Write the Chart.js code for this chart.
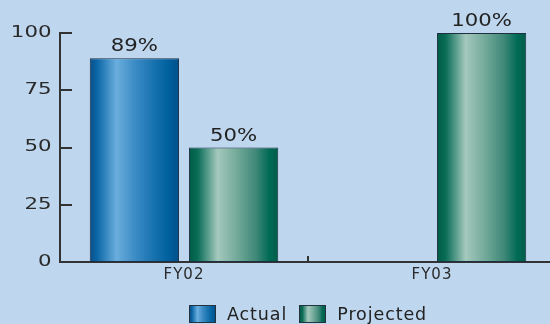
<!DOCTYPE html>
<html>
<head>
<meta charset="utf-8">
<script src="https://cdn.jsdelivr.net/npm/chart.js@4/dist/chart.umd.min.js"></script>
<style>
  html, body { margin: 0; padding: 0; background: #bed7ee; overflow: hidden; }
  #wrap { position: relative; width: 550px; height: 324px; overflow: hidden; }
  #c { position: absolute; left: 0; top: 0; }
  #legend { position: absolute; left: 189px; top: 304px; display: flex; align-items: center;
            font-family: "DejaVu Sans", sans-serif; font-size: 17.5px; letter-spacing: 0.9px; color: #222; }
  .item { display: flex; align-items: center; margin-right: 12px; }
  .box { width: 25px; height: 16px; border: 1px solid #24323f; margin-right: 11px; }
  .blue { background: linear-gradient(to right, #0b4f8a, #0a66a6 8%, #6aaedd 30%, #3d8cc6 50%, #1a74b0 70%, #00609e 88%, #00508a); }
  .green { background: linear-gradient(to right, #005a45, #0a6e58 10%, #a4c8bd 32%, #70a897 55%, #3f8878 75%, #006b55 90%, #005e4a); }
</style>
</head>
<body>
<div id="wrap">
  <canvas id="c" width="560" height="324"></canvas>
  <div id="legend">
    <div class="item"><div class="box blue"></div>Actual</div>
    <div class="item"><div class="box green"></div>Projected</div>
  </div>
</div>
<script>
// ---------- Data ----------
const categories = ['FY02', 'FY03'];
const actualValues = [89, 0];
const projectedValues = [50, 100];
const yTicks = [0, 25, 50, 75, 100];

// ---------- Styles ----------
const blueStops = [[0, '#0b4f8a'], [0.08, '#0a66a6'], [0.3, '#6aaedd'], [0.5, '#3d8cc6'], [0.7, '#1a74b0'], [0.88, '#00609e'], [1, '#00508a']];
const greenStops = [[0, '#005a45'], [0.1, '#0a6e58'], [0.32, '#a4c8bd'], [0.55, '#70a897'], [0.75, '#3f8878'], [0.9, '#006b55'], [1, '#005e4a']];
const FONT = '"DejaVu Sans", sans-serif';
const INK = '#2a2a2a';

function barGradient(stops, fallback) {
  return function(ctx) {
    if (ctx.type !== 'data') return fallback;
    const xs = ctx.chart.scales.x;
    if (!xs) return fallback;
    const catW = xs.width / categories.length;
    const center = xs.getPixelForValue(ctx.dataIndex) + (ctx.datasetIndex - 0.5) * catW * 0.8 / 2;
    const w = catW * 0.8 / 2 * 0.9;
    if (!isFinite(center) || !isFinite(w) || w <= 0) return fallback;
    const g = ctx.chart.ctx.createLinearGradient(center - w / 2, 0, center + w / 2, 0);
    stops.forEach(s => g.addColorStop(s[0], s[1]));
    return g;
  };
}

// wrap a scale's label drawing: optional letter spacing, optional horizontal stretch about the axis line
function styleLabels(spacing, stretch) {
  return function(scale) {
    if (scale._styled) return;
    const orig = scale.drawLabels.bind(scale);
    scale.drawLabels = function(area) {
      const c = this.ctx;
      c.save();
      c.letterSpacing = spacing + 'px';
      if (stretch) {
        c.translate(this.right, 0);
        c.scale(stretch, 1);
        c.translate(-this.right, 0);
      }
      orig(area);
      c.restore();
    };
    scale._styled = true;
  };
}

// ---------- Plugins ----------
const innerTicks = {
  id: 'innerTicks',
  afterDraw(chart) {
    const { ctx, scales: { x, y } } = chart;
    ctx.save();
    ctx.strokeStyle = '#333';
    ctx.lineWidth = 2;
    ctx.beginPath();
    yTicks.forEach(v => {
      if (v === 0) return;
      const py = Math.round(y.getPixelForValue(v));
      ctx.moveTo(x.left, py);
      ctx.lineTo(x.left + 12, py);
    });
    for (let i = 0; i < categories.length - 1; i++) {
      const px = Math.round((x.getPixelForValue(i) + x.getPixelForValue(i + 1)) / 2);
      ctx.moveTo(px, y.bottom);
      ctx.lineTo(px, y.bottom - 6);
    }
    ctx.stroke();
    ctx.restore();
  }
};

const valueLabels = {
  id: 'valueLabels',
  afterDatasetsDraw(chart) {
    const ctx = chart.ctx;
    chart.data.datasets.forEach((ds, di) => {
      chart.getDatasetMeta(di).data.forEach((el, i) => {
        const v = ds.data[i];
        if (!v) return;
        ctx.save();
        ctx.font = '18px ' + FONT;
        ctx.fillStyle = '#222';
        ctx.textAlign = 'center';
        ctx.textBaseline = 'alphabetic';
        ctx.translate(el.x, el.y - 7);
        ctx.scale(1.18, 1);
        ctx.fillText(v + '%', 0, 0);
        ctx.restore();
      });
    });
  }
};

// ---------- Chart ----------
new Chart(document.getElementById('c'), {
  type: 'bar',
  data: {
    labels: categories,
    datasets: [
      { label: 'Actual', data: actualValues, backgroundColor: barGradient(blueStops, '#2f7fb8'),
        borderColor: '#1e2f40', borderWidth: 1, borderSkipped: false },
      { label: 'Projected', data: projectedValues, backgroundColor: barGradient(greenStops, '#4f9a86'),
        borderColor: '#1e2f40', borderWidth: 1, borderSkipped: false }
    ]
  },
  options: {
    responsive: false,
    animation: false,
    layout: { padding: { top: 33, right: 4, left: 0, bottom: 0 } },
    plugins: { legend: { display: false }, tooltip: { enabled: false } },
    scales: {
      x: {
        grid: { display: false, drawTicks: false },
        border: { display: true, color: '#333', width: 2 },
        ticks: { color: INK, font: { family: FONT, size: 15 }, padding: 4, maxRotation: 0 },
        afterFit(scale) { scale.height = 62; styleLabels(1, 0)(scale); }
      },
      y: {
        min: 0, max: 100,
        grid: { display: false, drawTicks: false },
        border: { display: true, color: '#333', width: 2 },
        ticks: { stepSize: 25, color: INK, font: { family: FONT, size: 15 }, padding: 6 },
        afterFit(scale) { scale.width = 60; styleLabels(0, 1.42)(scale); }
      }
    }
  },
  plugins: [innerTicks, valueLabels]
});
</script>
</body>
</html>
